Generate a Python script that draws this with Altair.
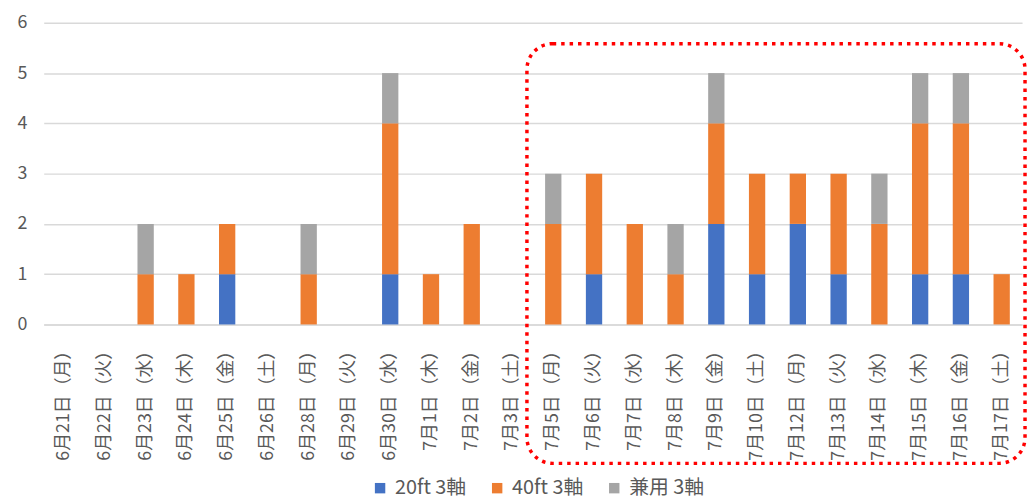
import altair as alt
import pandas as pd

dates = ["6月21日（月）", "6月22日（火）", "6月23日（水）", "6月24日（木）", "6月25日（金）",
         "6月26日（土）", "6月28日（月）", "6月29日（火）", "6月30日（水）", "7月1日（木）",
         "7月2日（金）", "7月3日（土）", "7月5日（月）", "7月6日（火）", "7月7日（水）",
         "7月8日（木）", "7月9日（金）", "7月10日（土）", "7月12日（月）", "7月13日（火）",
         "7月14日（水）", "7月15日（木）", "7月16日（金）", "7月17日（土）"]
series = ["20ft 3軸", "40ft 3軸", "兼用 3軸"]
colors = ["#4472C4", "#ED7D31", "#A5A5A5"]
v20 = [0, 0, 0, 0, 1, 0, 0, 0, 1, 0, 0, 0, 0, 1, 0, 0, 2, 1, 2, 1, 0, 1, 1, 0]
v40 = [0, 0, 1, 1, 1, 0, 1, 0, 3, 1, 2, 0, 2, 2, 2, 1, 2, 2, 1, 2, 2, 3, 3, 1]
vken = [0, 0, 1, 0, 0, 0, 1, 0, 1, 0, 0, 0, 1, 0, 0, 1, 1, 0, 0, 0, 1, 1, 1, 0]

rows = []
for i, d in enumerate(dates):
    for k, (s, vals) in enumerate(zip(series, [v20, v40, vken])):
        rows.append({"date": d, "series": s, "value": vals[i], "ord": k})
df = pd.DataFrame(rows)

FONT = "Noto Sans CJK JP"
TXT = "#595959"

bars = alt.Chart(df).mark_bar().encode(
    x=alt.X("date:N", sort=dates,
            scale=alt.Scale(domain=dates, paddingInner=0.6, paddingOuter=0.3),
            axis=alt.Axis(title=None, labelAngle=270, labelFontSize=18, labelColor=TXT,
                          labelFont=FONT, ticks=False, labelPadding=17,
                          domainColor="#D9D9D9", domainWidth=1.5)),
    y=alt.Y("value:Q", stack="zero",
            scale=alt.Scale(domain=[0, 6], nice=False),
            axis=alt.Axis(title=None, values=[0, 1, 2, 3, 4, 5, 6], labelFontSize=18,
                          labelColor=TXT, labelFont=FONT, ticks=False, domain=False,
                          labelPadding=17, gridColor="#D9D9D9", gridWidth=1.5)),
    color=alt.Color("series:N", sort=series,
                    scale=alt.Scale(domain=series, range=colors),
                    legend=alt.Legend(title=None, orient="none", direction="horizontal",
                                      legendX=329, legendY=459, symbolType="square",
                                      symbolSize=110, symbolStrokeWidth=0,
                                      labelFontSize=20, labelColor=TXT, labelFont=FONT,
                                      labelOffset=5, columnPadding=21)),
    order=alt.Order("ord:Q"),
)

box = alt.Chart(pd.DataFrame({"a": [0]})).mark_rect(
    fill="transparent", stroke="#FF0000", strokeWidth=3.5, strokeDash=[3.5, 5],
    cornerRadius=26, clip=False
).encode(
    x=alt.value(487), x2=alt.value(989), y=alt.value(21), y2=alt.value(444)
)

chart = alt.layer(bars, box).properties(
    width=986, height=304,
    autosize=alt.AutoSizeParams(type="none"),
    padding={"left": 36, "top": 13, "right": 6, "bottom": 176},
).configure_view(stroke=None)

chart.save("out.html", embed_options={"renderer": "svg", "actions": False})
